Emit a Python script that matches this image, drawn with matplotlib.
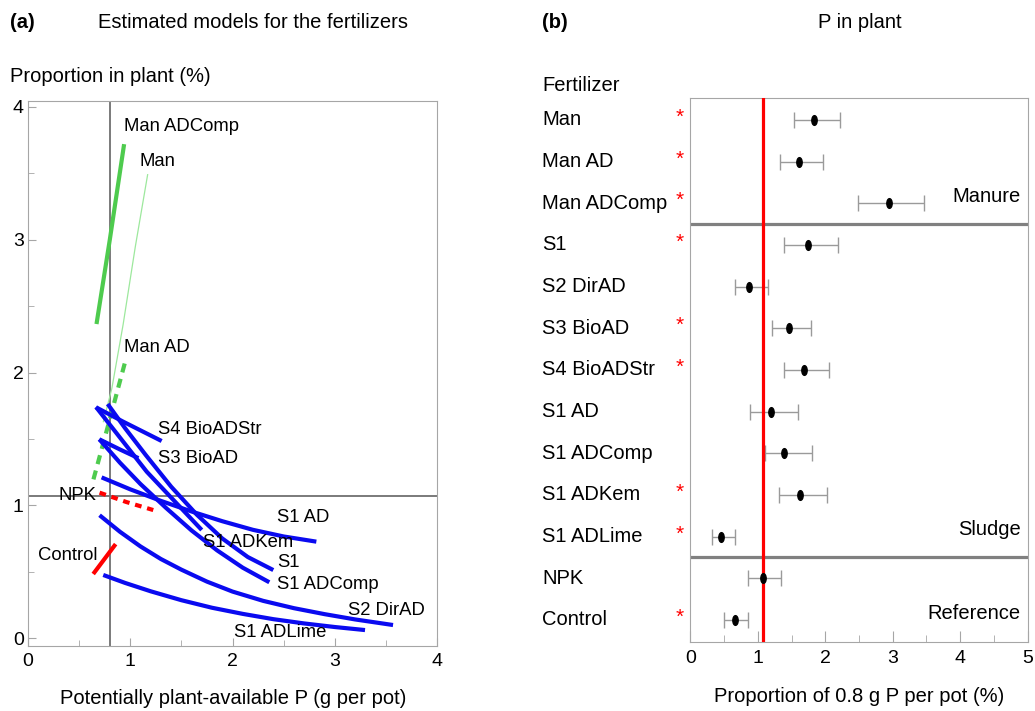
import matplotlib.pyplot as plt
from matplotlib.path import Path
from matplotlib.transforms import Affine2D, blended_transform_factory

plt.rcParams['font.family'] = ['Liberation Sans', 'DejaVu Sans']

# ---- panel (a): estimated models ----
# x = potentially plant-available P (g per pot), y = proportion in plant (%)
man_adcomp_x = [0.67, 0.80, 0.94]
man_adcomp_y = [2.365, 3.0, 3.72]
man_x = [0.737, 0.82, 0.93, 1.05, 1.17]
man_y = [1.63, 1.88, 2.36, 2.95, 3.49]
man_ad_x = [0.64, 0.79, 0.95]
man_ad_y = [1.195, 1.62, 2.08]
npk_x = [0.70, 0.96, 1.225]
npk_y = [1.095, 1.025, 0.964]
control_x = [0.65, 0.845]
control_y = [0.495, 0.695]

s4_bioadstr_x = [0.665, 0.93, 1.307]
s4_bioadstr_y = [1.738, 1.63, 1.484]
s3_bioad_x = [0.697, 0.90, 1.08]
s3_bioad_y = [1.497, 1.42, 1.355]
s1_adkem_x = [0.665, 1.161, 1.699]
s1_adkem_y = [1.740, 1.253, 0.814]
s1_x = [0.779, 0.95, 1.15, 1.4, 1.65, 1.9, 2.15, 2.399]
s1_y = [1.763, 1.58, 1.38, 1.14, 0.93, 0.75, 0.61, 0.512]
s1_adcomp_x = [0.697, 0.9, 1.1, 1.35, 1.6, 1.85, 2.1, 2.36]
s1_adcomp_y = [1.497, 1.32, 1.16, 0.98, 0.81, 0.66, 0.53, 0.42]
s1_ad_x = [0.72, 1.0, 1.3, 1.6, 1.9, 2.2, 2.5, 2.82]
s1_ad_y = [1.21, 1.12, 1.033, 0.953, 0.88, 0.815, 0.765, 0.726]
s2_dirad_x = [0.70, 0.9, 1.1, 1.3, 1.5, 1.75, 2.0, 2.3, 2.6, 2.9, 3.2, 3.57]
s2_dirad_y = [0.925, 0.80, 0.69, 0.595, 0.515, 0.425, 0.35, 0.28, 0.225, 0.18, 0.14, 0.098]
s1_adlime_x = [0.736, 0.95, 1.2, 1.5, 1.8, 2.1, 2.4, 2.7, 3.0, 3.296]
s1_adlime_y = [0.475, 0.415, 0.352, 0.285, 0.228, 0.182, 0.142, 0.11, 0.083, 0.06]

npk_level = 1.07
p_added = 0.8

# ---- panel (b): P in plant, estimate with interval ----
fertilizers = ['Man', 'Man AD', 'Man ADComp', 'S1', 'S2 DirAD', 'S3 BioAD',
               'S4 BioADStr', 'S1 AD', 'S1 ADComp', 'S1 ADKem', 'S1 ADLime',
               'NPK', 'Control']
estimate = [1.84, 1.61, 2.94, 1.75, 0.87, 1.47, 1.68, 1.20, 1.39, 1.63, 0.46, 1.08, 0.66]
lower = [1.53, 1.33, 2.49, 1.39, 0.66, 1.21, 1.39, 0.89, 1.10, 1.31, 0.32, 0.86, 0.50]
upper = [2.22, 1.96, 3.46, 2.19, 1.15, 1.79, 2.06, 1.60, 1.80, 2.03, 0.66, 1.35, 0.86]
significant = [True, True, True, True, False, True, True, False, False, True, True, False, True]
groups = ['Manure', 'Sludge', 'Reference']
group_last_row = [2, 10, 12]

blue = '#0a0af0'
green = '#4ecb4e'
red = '#ff0000'
grey_spine = '#a6a6a6'

fig = plt.figure(figsize=(10.35, 7.11), dpi=100)
W, H = 1035, 711

def px_axes(x0, y0, x1, y1):
    return fig.add_axes([x0 / W, 1 - y1 / H, (x1 - x0) / W, (y1 - y0) / H])

# ---------------- panel (a) ----------------
ax = px_axes(28, 101, 437, 646)
ax.set_xlim(0, 4)
ax.set_ylim(-0.06, 4.045)
ax.axvline(p_added, color='#707070', lw=1.3, zorder=1)
ax.axhline(npk_level, color='#707070', lw=1.3, zorder=1)

ax.plot(man_x, man_y, color='#9de89d', lw=0.9)
ax.plot(man_adcomp_x, man_adcomp_y, color=green, lw=3.0, solid_capstyle='butt')
ax.plot(man_ad_x, man_ad_y, color=green, lw=3.0, ls=(0, (2.2, 1.6)))
ax.plot(npk_x, npk_y, color=red, lw=3.0, ls=(0, (1.6, 1.4)))
ax.plot(control_x, control_y, color=red, lw=3.0)

for xs, ys in [(s4_bioadstr_x, s4_bioadstr_y), (s3_bioad_x, s3_bioad_y),
               (s1_adkem_x, s1_adkem_y), (s1_x, s1_y), (s1_adcomp_x, s1_adcomp_y),
               (s1_ad_x, s1_ad_y), (s2_dirad_x, s2_dirad_y), (s1_adlime_x, s1_adlime_y)]:
    ax.plot(xs, ys, color=blue, lw=3.0, solid_joinstyle='round', solid_capstyle='butt')

lab_fs = 13.3
curve_labels = [('Man ADComp', 0.94, 3.85, 'left'), ('Man', 1.09, 3.59, 'left'),
                ('Man AD', 0.94, 2.19, 'left'), ('S4 BioADStr', 1.275, 1.57, 'left'),
                ('S3 BioAD', 1.275, 1.35, 'left'), ('NPK', 0.67, 1.07, 'right'),
                ('Control', 0.68, 0.625, 'right'), ('S1 AD', 2.44, 0.906, 'left'),
                ('S1 ADKem', 1.715, 0.72, 'left'), ('S1', 2.44, 0.567, 'left'),
                ('S1 ADComp', 2.44, 0.40, 'left'), ('S2 DirAD', 3.13, 0.21, 'left'),
                ('S1 ADLime', 2.01, 0.043, 'left')]
for txt, tx, ty, ha in curve_labels:
    ax.text(tx, ty, txt, ha=ha, va='center', fontsize=lab_fs)

ax.set_xticks([0, 1, 2, 3, 4])
ax.set_xticks([0.5, 1.5, 2.5, 3.5], minor=True)
ax.set_yticks([0, 1, 2, 3, 4])
ax.set_yticks([0.5, 1.5, 2.5, 3.5], minor=True)
ax.tick_params(which='both', direction='in', color=grey_spine, labelsize=14)
ax.tick_params(axis='x', which='both', pad=5)
ax.tick_params(axis='y', which='both', pad=3)
ax.tick_params(which='major', length=6)
ax.tick_params(which='minor', length=4)
for sp in ax.spines.values():
    sp.set_color(grey_spine)

# ---------------- panel (b) ----------------
bx = px_axes(690.3, 97.7, 1027.7, 642)
rows = list(range(len(fertilizers)))
bx.set_xlim(0, 5)
bx.set_ylim(12.53, -0.535)

err_lo = [e - l for e, l in zip(estimate, lower)]
err_hi = [u - e for e, u in zip(estimate, upper)]
bx.errorbar(estimate, rows, xerr=[err_lo, err_hi], fmt='none', ecolor='#9a9a9a',
            elinewidth=1.0, capsize=6, capthick=1.0, zorder=2)
ellipse = Path.unit_circle().transformed(Affine2D().scale(0.55, 1.0))
bx.plot(estimate, rows, ls='none', marker=ellipse, markersize=7,
        color='black', zorder=4)
bx.axvline(npk_level, color=red, lw=2.3, zorder=3)

for r in [2.5, 10.5]:
    bx.axhline(r, color='#808080', lw=2.3, zorder=1)

trans = blended_transform_factory(bx.transAxes, bx.transData)
bx.text(-0.4395, -0.82, 'Fertilizer', transform=trans, ha='left', va='center',
        fontsize=14.5, clip_on=False)
for r, name, sig in zip(rows, fertilizers, significant):
    bx.text(-0.4395, r, name, transform=trans, ha='left', va='center',
            fontsize=14.5, clip_on=False)
    if sig:
        bx.text(-0.0305, r - 0.06, '*', transform=trans, ha='center', va='center',
                fontsize=15, color=red, clip_on=False)
for g, last in zip(groups, group_last_row):
    bx.text(0.979, last - 0.16, g, transform=trans, ha='right', va='center',
            fontsize=14.5)

bx.set_yticks([])
bx.set_xticks([0, 1, 2, 3, 4, 5])
bx.set_xticks([0.5, 1.5, 2.5, 3.5, 4.5], minor=True)
bx.tick_params(which='both', direction='in', color=grey_spine, labelsize=14, pad=6)
bx.tick_params(which='major', length=8)
bx.tick_params(which='minor', length=5)
for sp in bx.spines.values():
    sp.set_color(grey_spine)

# ---------------- titles and axis texts ----------------
def ftext(x, y, s, **kw):
    fig.text(x / W, 1 - y / H, s, va='center', **kw)

ftext(10, 22, '(a)', fontsize=14.5, fontweight='bold')
ftext(253, 22, 'Estimated models for the fertilizers', fontsize=14.5, ha='center')
ftext(542, 22, '(b)', fontsize=14.5, fontweight='bold')
ftext(859.7, 22, 'P in plant', fontsize=14.5, ha='center')
ftext(10, 77, 'Proportion in plant (%)', fontsize=14.5)
ftext(233, 698, 'Potentially plant-available P (g per pot)', fontsize=14.5, ha='center')
ftext(859.5, 696, 'Proportion of 0.8 g P per pot (%)', fontsize=14.5, ha='center')

fig.savefig('out.png', dpi=100)
